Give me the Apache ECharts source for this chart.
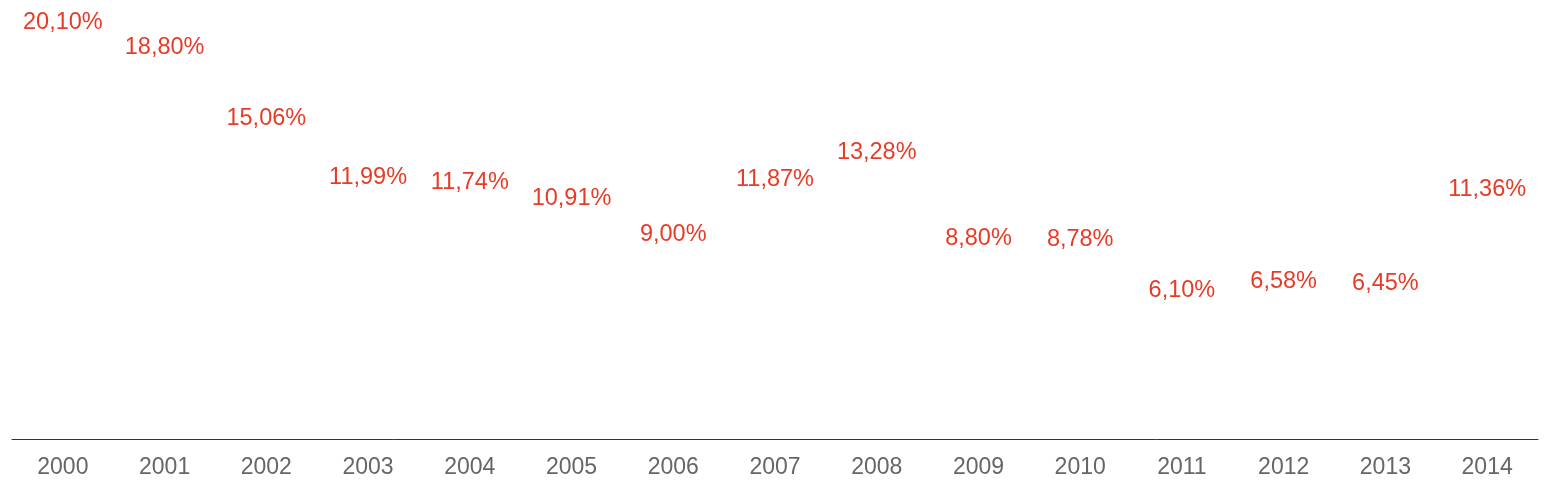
<!DOCTYPE html>
<html>
<head>
<meta charset="utf-8">
<script src="https://cdn.jsdelivr.net/npm/echarts@6/dist/echarts.min.js"></script>
<style>
  html, body { margin: 0; padding: 0; background: #fff; }
  #chart { width: 1552px; height: 497px; }
</style>
</head>
<body>
<div id="chart"></div>
<script>
const years = ['2000', '2001', '2002', '2003', '2004', '2005', '2006', '2007',
    '2008', '2009', '2010', '2011', '2012', '2013', '2014'];
const rates = [20.10, 18.80, 15.06, 11.99, 11.74, 10.91, 9.00, 11.87,
    13.28, 8.80, 8.78, 6.10, 6.58, 6.45, 11.36];

const red = '#e63c27';
const font = 'Liberation Sans, Arial, sans-serif';

const chart = echarts.init(document.getElementById('chart'));
chart.setOption({
    animation: false,
    grid: { left: 12, right: 14, top: 5.2, bottom: 58 },
    xAxis: {
        type: 'category',
        data: years,
        axisLine: { onZero: false, lineStyle: { color: '#333', width: 1 } },
        axisTick: { show: false },
        axisLabel: {
            color: '#666',
            fontSize: 23,
            fontFamily: font,
            margin: 17
        }
    },
    yAxis: {
        type: 'value',
        min: -1.66,
        max: 21,
        show: false,
        splitLine: { show: false }
    },
    series: [{
        type: 'scatter',
        data: rates,
        symbolSize: 0,
        itemStyle: { color: red, opacity: 1 },
        label: {
            show: true,
            position: 'inside',
            color: red,
            fontSize: 23.5,
            fontFamily: font,
            formatter: p => p.value.toFixed(2).replace('.', ',') + '%'
        }
    }]
});
</script>
</body>
</html>
